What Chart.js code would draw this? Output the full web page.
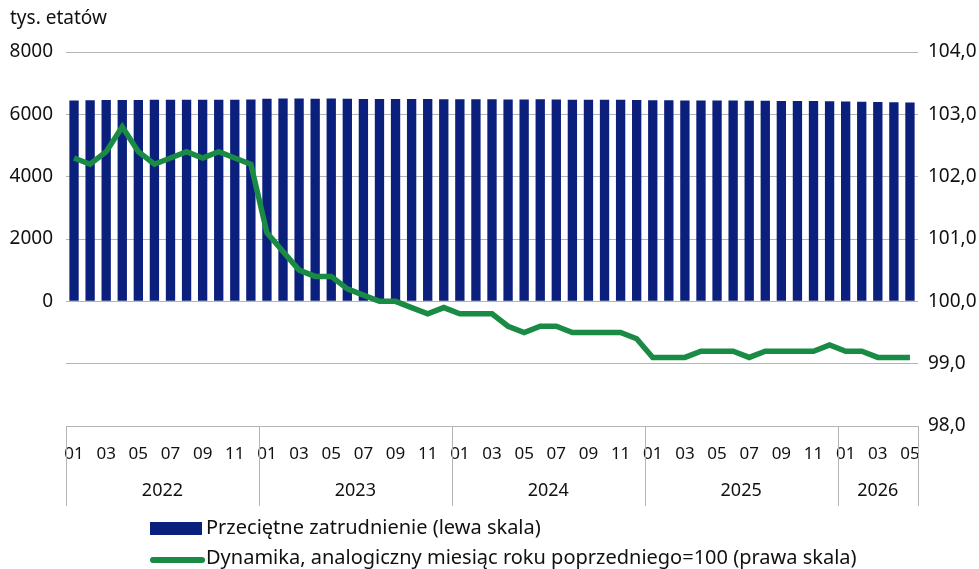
<!DOCTYPE html>
<html>
<head>
<meta charset="utf-8">
<script src="https://cdn.jsdelivr.net/npm/chart.js@4.4.1/dist/chart.umd.min.js"></script>
<style>
  html, body { margin: 0; padding: 0; background: #fff; }
  #wrap { width: 979px; height: 569px; position: relative; }
</style>
</head>
<body>
<div id="wrap"><canvas id="chart"></canvas></div>
<script>
const monthLabels = [
  '01','02','03','04','05','06','07','08','09','10','11','12',
  '01','02','03','04','05','06','07','08','09','10','11','12',
  '01','02','03','04','05','06','07','08','09','10','11','12',
  '01','02','03','04','05','06','07','08','09','10','11','12',
  '01','02','03','04','05'
];
const yearLabels = ['2022', '2023', '2024', '2025', '2026'];
const monthsInYear = [12, 12, 12, 12, 5];

// przeciętne zatrudnienie, tys. etatów
const employment = [
  6440, 6455, 6460, 6460, 6460, 6465, 6470, 6470, 6465, 6465, 6470, 6475,
  6500, 6505, 6505, 6500, 6505, 6500, 6495, 6495, 6490, 6490, 6490, 6485,
  6480, 6480, 6480, 6475, 6475, 6480, 6475, 6470, 6465, 6465, 6465, 6460,
  6450, 6450, 6445, 6445, 6440, 6440, 6435, 6435, 6430, 6430, 6425, 6420,
  6410, 6400, 6395, 6390, 6380
];
// dynamika r/r (analogiczny miesiąc roku poprzedniego = 100)
const dynamics = [
  102.3, 102.2, 102.4, 102.8, 102.4, 102.2, 102.3, 102.4, 102.3, 102.4, 102.3, 102.2,
  101.1, 100.8, 100.5, 100.4, 100.4, 100.2, 100.1, 100.0, 100.0, 99.9, 99.8, 99.9,
  99.8, 99.8, 99.8, 99.6, 99.5, 99.6, 99.6, 99.5, 99.5, 99.5, 99.5, 99.4,
  99.1, 99.1, 99.1, 99.2, 99.2, 99.2, 99.1, 99.2, 99.2, 99.2, 99.2, 99.3,
  99.2, 99.2, 99.1, 99.1, 99.1
];

const font = "'Noto Sans', 'Open Sans', sans-serif";
const textColor = '#111';
const gridColor = '#b4b4b4';
const barColor = '#0b1f7c';
const lineColor = '#1a8b45';

// dwupoziomowa oś X, tytuł osi i legenda
const extrasPlugin = {
  id: 'extras',
  afterDraw(chart) {
    const { ctx, chartArea } = chart;
    const x = chart.scales.x;
    const top = chartArea.bottom;
    const bottom = top + 80;
    const half = (x.getPixelForValue(1) - x.getPixelForValue(0)) / 2;

    ctx.save();
    ctx.strokeStyle = gridColor;
    ctx.lineWidth = 1;
    ctx.beginPath();
    ctx.moveTo(chartArea.left, top + 0.5);
    ctx.lineTo(chartArea.right, top + 0.5);
    let idx = 0;
    const bounds = [chartArea.left];
    monthsInYear.forEach(n => {
      idx += n;
      bounds.push(x.getPixelForValue(idx - 1) + half);
    });
    bounds.forEach(b => {
      const px = Math.round(b) + 0.5;
      ctx.moveTo(px, top);
      ctx.lineTo(px, bottom);
    });
    ctx.stroke();

    ctx.fillStyle = textColor;
    ctx.font = `18px ${font}`;
    ctx.textAlign = 'center';
    ctx.textBaseline = 'middle';
    yearLabels.forEach((y, i) => {
      ctx.fillText(y, (bounds[i] + bounds[i + 1]) / 2, top + 65);
    });

    // tytuł osi
    ctx.textAlign = 'left';
    ctx.font = `19px ${font}`;
    ctx.fillText('tys. etatów', 10, 19);

    // legenda
    const lx = 150;
    ctx.font = `20px ${font}`;
    ctx.fillStyle = barColor;
    ctx.fillRect(lx, 522, 52, 13);
    ctx.fillStyle = textColor;
    ctx.fillText(chart.data.datasets[1].label, lx + 56, 528);

    ctx.strokeStyle = lineColor;
    ctx.lineWidth = 6;
    ctx.lineCap = 'round';
    ctx.beginPath();
    ctx.moveTo(lx + 3, 560);
    ctx.lineTo(lx + 52, 560);
    ctx.stroke();
    ctx.fillText(chart.data.datasets[0].label, lx + 56, 558);
    ctx.restore();
  }
};

new Chart(document.getElementById('chart'), {
  type: 'bar',
  data: {
    labels: monthLabels,
    datasets: [
      {
        type: 'line',
        label: 'Dynamika, analogiczny miesiąc roku poprzedniego=100 (prawa skala)',
        data: dynamics,
        yAxisID: 'y1',
        borderColor: lineColor,
        borderWidth: 5.5,
        pointRadius: 0,
        tension: 0,
        order: 0
      },
      {
        label: 'Przeciętne zatrudnienie (lewa skala)',
        data: employment,
        yAxisID: 'y',
        backgroundColor: barColor,
        barPercentage: 0.58,
        categoryPercentage: 1,
        order: 1
      }
    ]
  },
  options: {
    responsive: true,
    maintainAspectRatio: false,
    animation: false,
    layout: { padding: { top: 52, bottom: 63, left: 0, right: 0 } },
    plugins: {
      legend: { display: false },
      tooltip: { enabled: false }
    },
    scales: {
      x: {
        grid: { display: false },
        border: { display: false },
        ticks: {
          autoSkip: false,
          maxRotation: 0,
          color: textColor,
          font: { family: font, size: 17 },
          padding: 10,
          callback: function (v) {
            const m = this.getLabelForValue(v);
            return parseInt(m, 10) % 2 === 1 ? m : '';
          }
        },
        afterFit(scale) { scale.height = 80; }
      },
      y: {
        position: 'left',
        min: -4000,
        max: 8000,
        grid: { color: gridColor, drawTicks: false },
        border: { display: false },
        ticks: {
          stepSize: 2000,
          padding: 13,
          color: textColor,
          font: { family: font, size: 19 },
          callback: v => (v >= 0 ? String(v) : '')
        },
        afterFit(scale) { scale.width = 66; }
      },
      y1: {
        position: 'right',
        min: 98,
        max: 104,
        grid: { display: false, drawTicks: false },
        border: { display: false },
        ticks: {
          stepSize: 1,
          padding: 10,
          color: textColor,
          font: { family: font, size: 19 },
          callback: v => v.toFixed(1).replace('.', ',')
        },
        afterFit(scale) { scale.width = 61; }
      }
    }
  },
  plugins: [extrasPlugin]
});
</script>
</body>
</html>
